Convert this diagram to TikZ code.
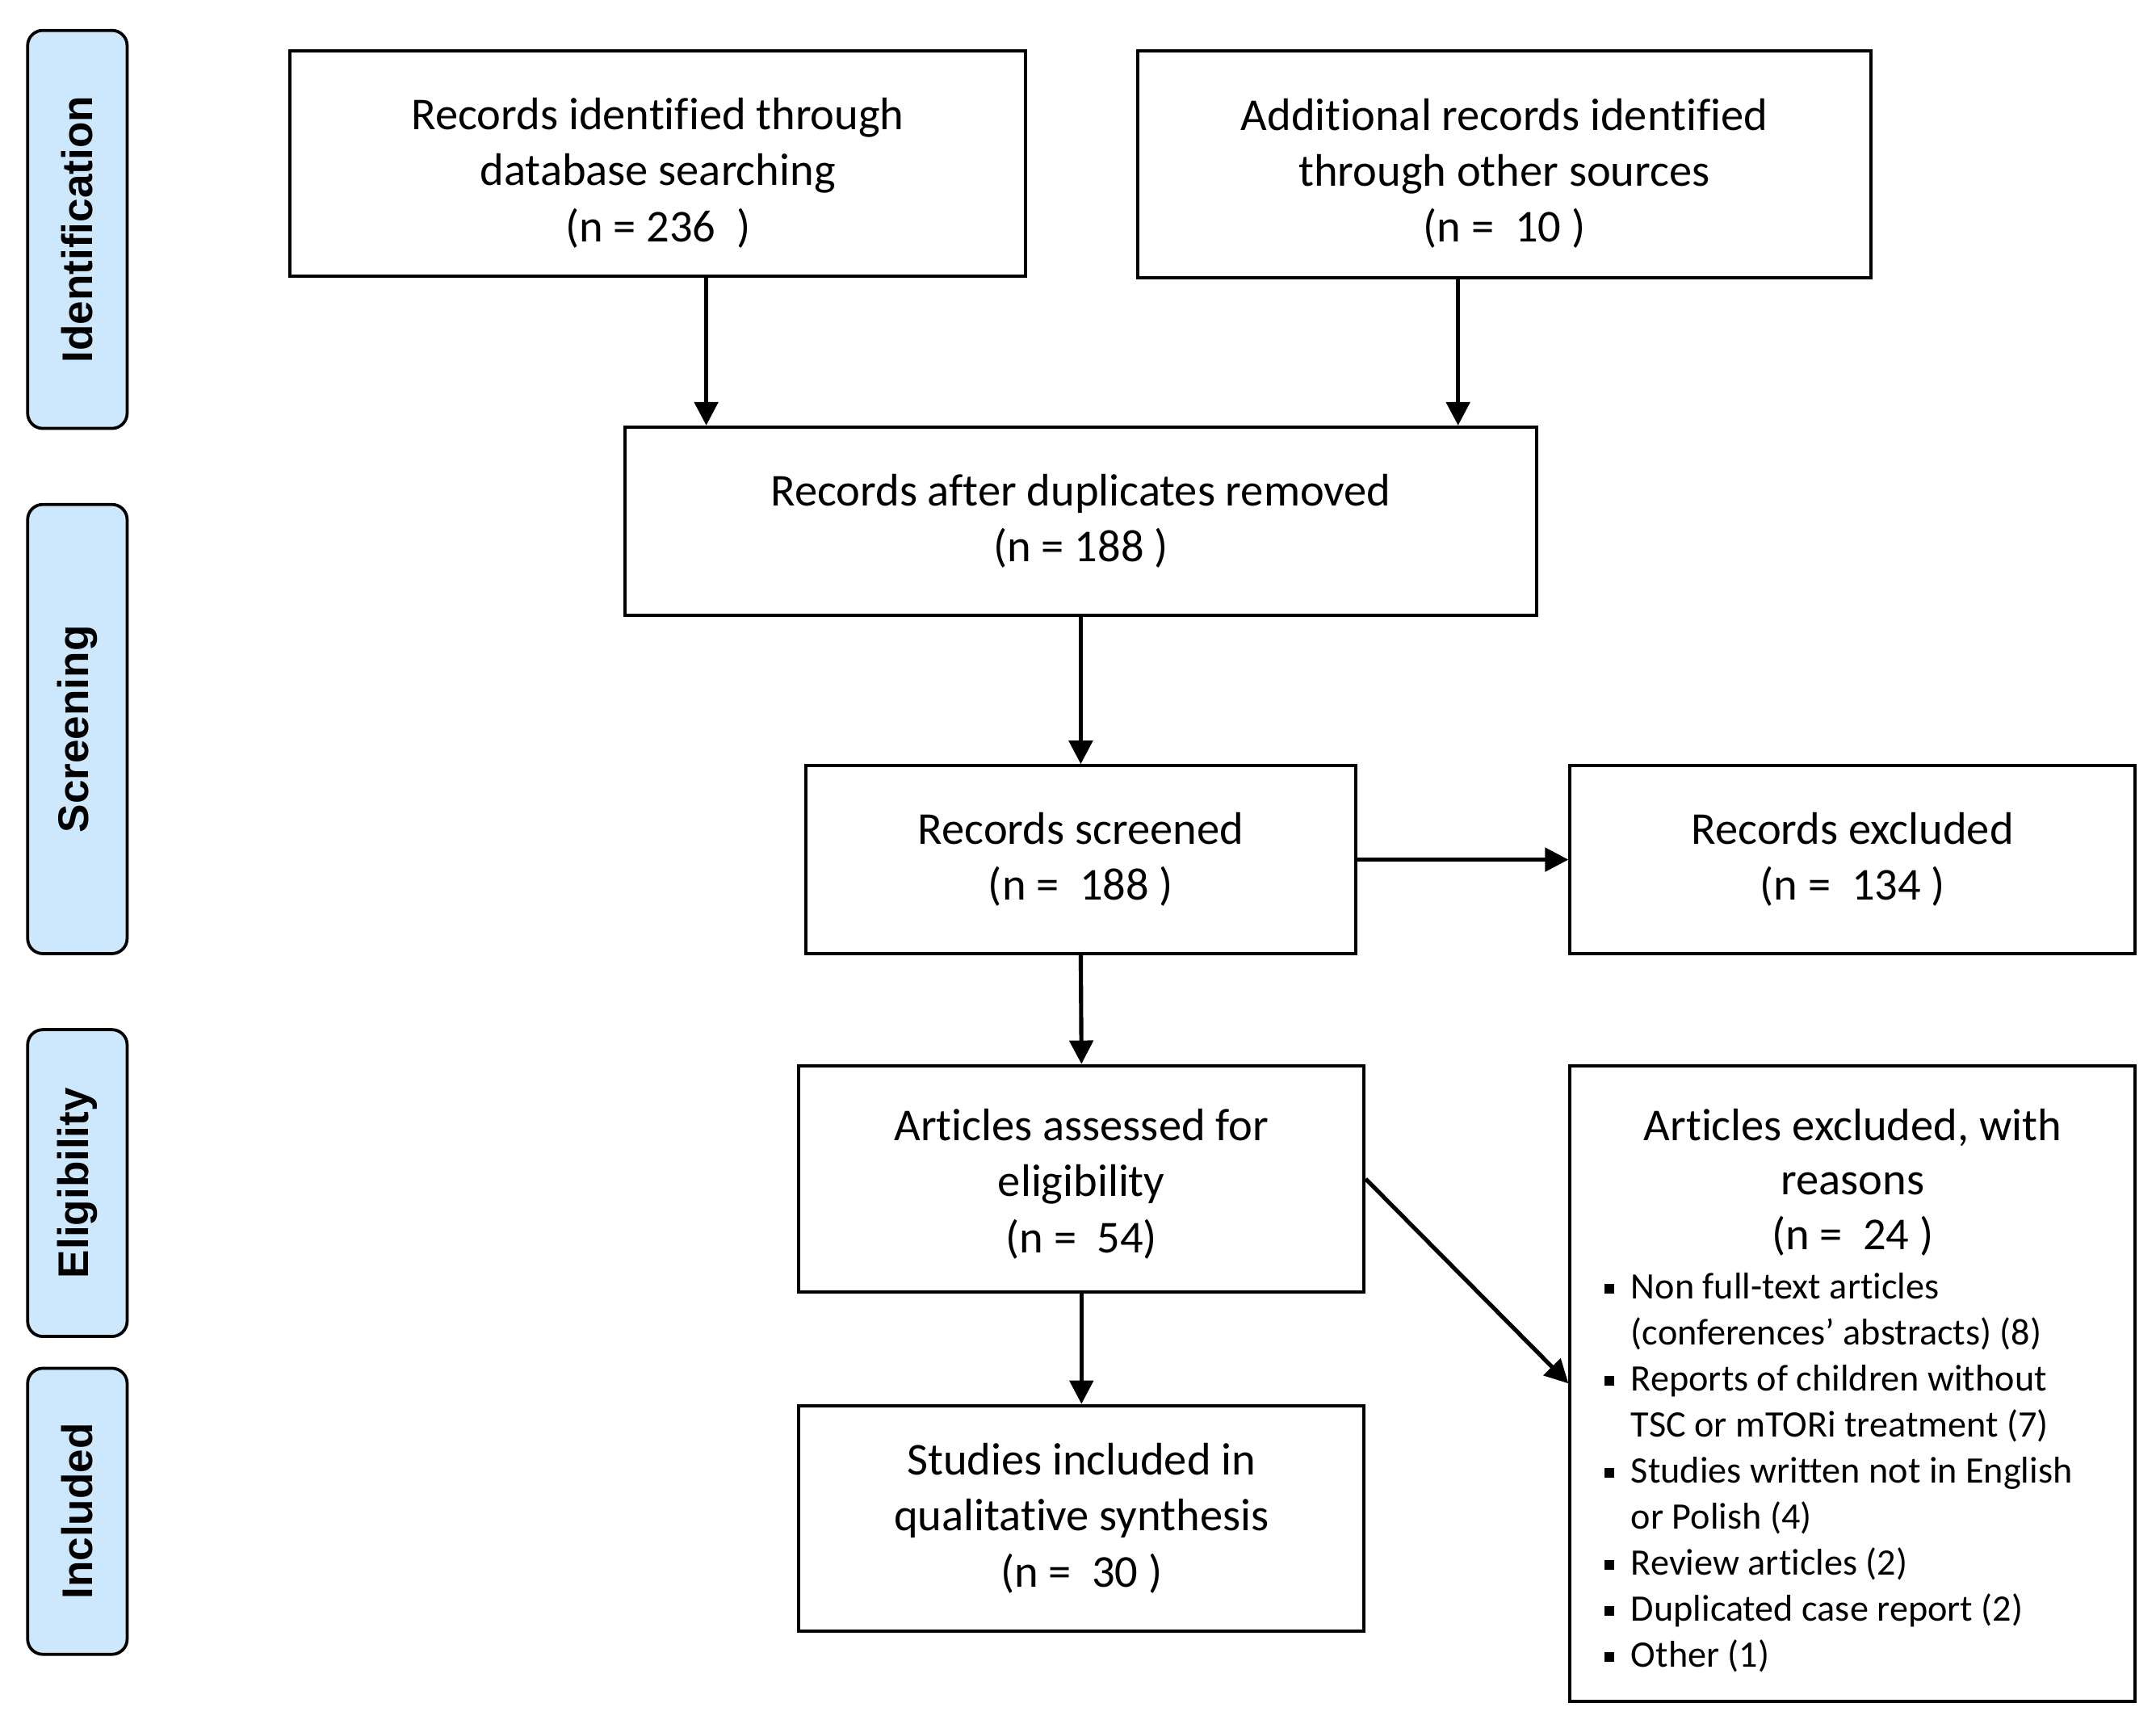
\documentclass[tikz,border=0pt]{standalone}
\usepackage{fontspec}
\setmainfont{Carlito}[Ligatures={NoCommon}]
\newfontfamily\sidefont{Liberation Sans}
\usetikzlibrary{arrows.meta}
\definecolor{sideblue}{RGB}{205,232,252}
\newcommand\bulsq{\makebox[19pt][l]{\rule[4pt]{7pt}{7pt}}}
\tikzset{
 box/.style={draw=black, line width=2.3pt, fill=white, align=center,
   font=\fontsize{33}{40.5}\selectfont, inner sep=0pt},
 side/.style={draw=black, line width=2.2pt, fill=sideblue, rounded corners=11pt,
   minimum height=72pt, inner sep=0pt, rotate=90,
   font=\sidefont\bfseries\fontsize{31}{36}\selectfont},
 arr/.style={line width=3pt, -{Triangle[length=17pt,width=17pt]}}
}
\begin{document}
\begin{tikzpicture}[x=1pt,y=-1pt]
\useasboundingbox (0,0) rectangle (1560,1247);
% phase labels
\node[side, minimum width=288pt] (sid) at (56,166) {Identification};
\node[side, minimum width=325pt] (sscr) at (56,527.5) {Screening};
\node[side, minimum width=222pt] (selig) at (56,856) {Eligibility};
\node[side, minimum width=207pt] (sinc) at (56,1093.5) {Included};
% boxes
\node[box, minimum width=532pt, minimum height=163pt] (b1) at (476,118.5)
  {\rule{0pt}{36pt}Records identified through\\database searching\\(n = 236\ \ )};
\node[box, minimum width=531pt, minimum height=164pt] (b2) at (1088.5,119)
  {\rule{0pt}{36pt}Additional records identified\\through other sources\\(n =\ \ 10 )};
\node[box, minimum width=660pt, minimum height=136pt] (b3) at (782,377)
  {Records after duplicates removed\\(n = 188 )};
\node[box, minimum width=398pt, minimum height=136pt] (b4) at (782,622)
  {Records screened\\(n =\ \ 188 )};
\node[box, minimum width=409pt, minimum height=136pt] (b5) at (1340.5,622)
  {Records excluded\\(n =\ \ 134 )};
\node[box, minimum width=409pt, minimum height=164pt] (b6) at (782.5,853)
  {\rule{0pt}{30pt}Articles assessed for\\eligibility\\(n =\ \ 54)};
\node[box, minimum width=409pt, minimum height=460pt] (b7) at (1340.5,1001) {};
\node[box, draw=none, fill=none, anchor=north] (b7t) at (1340.5,801)
  {Articles excluded, with\\[-1pt]reasons\\[-1pt](n =\ \ 24 )};
\node[anchor=north west, align=left, inner sep=0pt,
  font=\fontsize{27}{33.3}\selectfont] (b7r) at (1161,921)
  {\bulsq Non full-text articles\\
   \hphantom{\bulsq}(conferences’ abstracts) (8)\\
   \bulsq Reports of children without\\
   \hphantom{\bulsq}TSC or mTORi treatment (7)\\
   \bulsq Studies written not in English\\
   \hphantom{\bulsq}or Polish (4)\\
   \bulsq Review articles (2)\\
   \bulsq Duplicated case report (2)\\
   \bulsq Other (1)};
\node[box, minimum width=409pt, minimum height=163pt] (b8) at (782.5,1098.5)
  {Studies included in\\qualitative synthesis\\(n =\ \ 30 )};
% connectors
\draw[arr] ([xshift=35pt]b1.south) -- ([xshift=35pt]b1.south |- b3.north);
\draw[arr] ([xshift=-33.5pt]b2.south) -- ([xshift=-33.5pt]b2.south |- b3.north);
\draw[arr] (b3.south) -- (b4.north);
\draw[arr] (b4.east) -- (b5.west);
\draw[arr] (b4.south) -- (b6.north);
\draw[arr] (b6.south) -- (b8.north);
\draw[arr] (b6.east) -- (b7.west);
\end{tikzpicture}
\end{document}
